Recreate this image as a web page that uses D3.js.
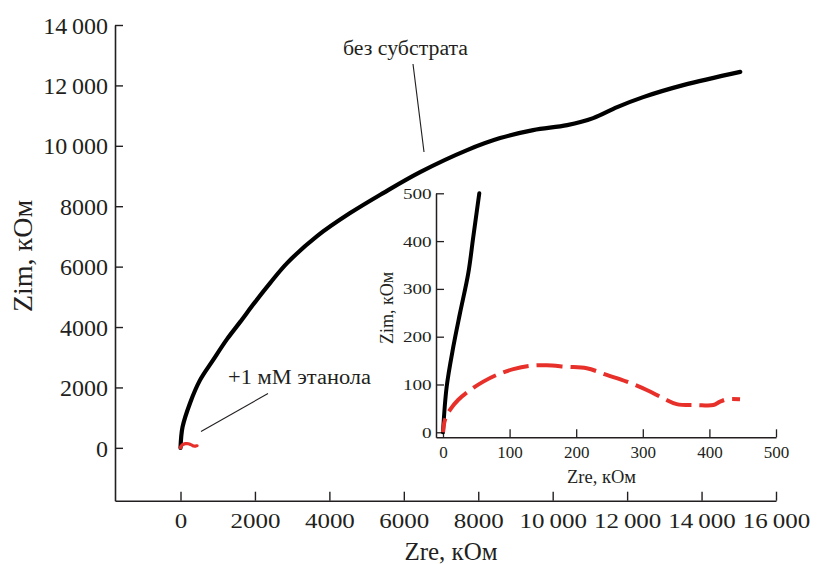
<!DOCTYPE html>
<html><head><meta charset="utf-8">
<script src="https://cdn.jsdelivr.net/npm/d3@7"></script>
<style>
html,body{margin:0;padding:0;background:#fff;}
svg{display:block;}
text{font-family:"Liberation Serif","Times New Roman",serif !important;fill:#231f20;}
</style></head>
<body>
<svg id="c" width="819" height="564"></svg>
<script>
// ---- data (kOhm) ----
const mainZre = [0, 54, 255, 524, 874, 1250, 1599, 2002, 2406, 2863, 3669, 4556, 5443, 6438, 7701, 8588, 9475, 10389, 11088, 11733, 12432, 13507, 15040];
const mainZim = [0, 685, 1480, 2242, 2904, 3599, 4162, 4825, 5454, 6116, 7010, 7772, 8434, 9129, 9858, 10255, 10520, 10685, 10917, 11281, 11612, 12009, 12449];
const ethZre = [0, 3, 10.5, 23, 40.5, 60.5, 80.6, 105.6, 130.6, 155.7, 185.7, 215.8, 245.8, 275.8, 305.9, 330.9, 350.9, 381, 405.9, 416, 426, 446];
const ethZim = [0, 26, 47, 68, 88, 106, 120, 132, 139, 140, 137, 134, 120, 106, 88.5, 71, 59, 57, 57, 64, 69, 69];
const insetBlackZre = [0, 5.5, 15.5, 25.5, 38, 45.5, 54.5];
const insetBlackZim = [0, 95, 179, 249, 333, 409, 500];

const xTickValues = [0, 2000, 4000, 6000, 8000, 10000, 12000, 14000, 16000];
const xTickLabels = ["0", "2000", "4000", "6000", "8000", "10\u2009000", "12\u2009000", "14\u2009000", "16\u2009000"];
const yTickValues = [0, 2000, 4000, 6000, 8000, 10000, 12000, 14000];
const yTickLabels = ["0", "2000", "4000", "6000", "8000", "10\u2009000", "12\u2009000", "14\u2009000"];
const insetTickValues = [0, 100, 200, 300, 400, 500];
const insetTickLabels = ["0", "100", "200", "300", "400", "500"];

const xTitle = "Zre, кОм";
const yTitle = "Zim, кОм";
const labelNoSub = "без субстрата";
const labelEth = "+1 мМ этанола";

const svg = d3.select("#c");
const ink = "#231f20";
const red = "#e8302a";
const serif = '"Liberation Serif", "Times New Roman", serif';

// ---- main scales ----
const x = d3.scaleLinear().domain([-1760, 16000]).range([115, 776]);
const y = d3.scaleLinear().domain([-1750, 14000]).range([500.7, 25]);

// main axes
const gx = svg.append("g").attr("transform", `translate(0,${y.range()[0]})`)
  .call(d3.axisBottom(x).tickValues(xTickValues).tickSizeInner(-9).tickSizeOuter(0)
    .tickFormat((d, i) => xTickLabels[i]));
const gy = svg.append("g").attr("transform", `translate(${x.range()[0]},0)`)
  .call(d3.axisLeft(y).tickValues(yTickValues).tickSizeInner(-8).tickSizeOuter(0)
    .tickFormat((d, i) => yTickLabels[i]));
[gx, gy].forEach(g => {
  g.attr("font-family", serif);
  g.select(".domain").attr("stroke", ink).attr("stroke-width", 1.6);
  g.selectAll(".tick line").attr("stroke", ink).attr("stroke-width", 1.4);
});
gx.selectAll(".tick text").style("font-family", serif).attr("font-size", 20)
  .attr("fill", ink).attr("y", 27.5).attr("dy", 0).attr("transform", "scale(1.25,1)");
gy.selectAll(".tick text").style("font-family", serif).attr("font-size", 24)
  .attr("fill", ink).attr("x", -7).attr("dy", "0.34em");

// main titles
svg.append("text").attr("x", 451).attr("y", 560).attr("text-anchor", "middle")
  .attr("font-size", 25).text(xTitle);
svg.append("text").attr("transform", "translate(32,256) rotate(-90)").attr("text-anchor", "middle")
  .attr("font-size", 28).text(yTitle);

// main lines
const lineMain = d3.line().x(d => x(d[0])).y(d => y(d[1])).curve(d3.curveCatmullRom.alpha(0.5));
svg.append("path").datum(mainZre.map((v, i) => [v, mainZim[i]]))
  .attr("d", lineMain).attr("fill", "none").attr("stroke", "#000").attr("stroke-width", 4.2)
  .attr("stroke-linecap", "round").attr("stroke-linejoin", "round");
svg.append("path").datum(ethZre.map((v, i) => [v, ethZim[i]]))
  .attr("d", lineMain).attr("fill", "none").attr("stroke", red).attr("stroke-width", 3.2)
  .attr("stroke-linecap", "round");

// annotations
svg.append("text").attr("x", 343).attr("y", 55).attr("font-size", 20)
  .attr("textLength", 125).attr("lengthAdjust", "spacingAndGlyphs").text(labelNoSub);
svg.append("line").attr("x1", 413).attr("y1", 64).attr("x2", 424).attr("y2", 152)
  .attr("stroke", ink).attr("stroke-width", 1.1);
svg.append("text").attr("x", 228).attr("y", 384).attr("font-size", 20)
  .attr("textLength", 143).attr("lengthAdjust", "spacingAndGlyphs").text(labelEth);
svg.append("line").attr("x1", 268).attr("y1", 393.5).attr("x2", 201).attr("y2", 431.5)
  .attr("stroke", ink).attr("stroke-width", 1.1);

// ---- inset ----
const xi = d3.scaleLinear().domain([-10.5, 500]).range([436, 776]);
const yi = d3.scaleLinear().domain([-10.5, 500]).range([437.3, 193.3]);

const gxi = svg.append("g").attr("transform", `translate(0,${yi.range()[0]})`)
  .call(d3.axisBottom(xi).tickValues(insetTickValues).tickSizeInner(-8).tickSizeOuter(0)
    .tickFormat((d, i) => insetTickLabels[i]));
const gyi = svg.append("g").attr("transform", `translate(${xi.range()[0]},0)`)
  .call(d3.axisLeft(yi).tickValues(insetTickValues).tickSizeInner(-8).tickSizeOuter(0)
    .tickFormat((d, i) => insetTickLabels[i]));
[gxi, gyi].forEach(g => {
  g.attr("font-family", serif);
  g.select(".domain").attr("stroke", ink).attr("stroke-width", 1.5);
  g.selectAll(".tick line").attr("stroke", ink).attr("stroke-width", 1.3);
});
gxi.selectAll(".tick text").style("font-family", serif).attr("font-size", 17)
  .attr("fill", ink).attr("y", 21).attr("dy", 0);
gyi.selectAll(".tick text").style("font-family", serif).attr("font-size", 15)
  .attr("fill", ink).attr("x", -3.4).attr("dy", "0.34em").attr("transform", "scale(1.28,1)");

svg.append("text").attr("x", 601.5).attr("y", 483).attr("text-anchor", "middle")
  .attr("font-size", 18.5).text(xTitle);
svg.append("text").attr("transform", "translate(393,308) rotate(-90)").attr("text-anchor", "middle")
  .attr("font-size", 18).text(yTitle);

const lineIn = d3.line().x(d => xi(d[0])).y(d => yi(d[1])).curve(d3.curveCatmullRom.alpha(0.5));
svg.append("path").datum(insetBlackZre.map((v, i) => [v, insetBlackZim[i]]))
  .attr("d", lineIn).attr("fill", "none").attr("stroke", "#000").attr("stroke-width", 4)
  .attr("stroke-linecap", "round").attr("stroke-linejoin", "round");
svg.append("path").datum(ethZre.map((v, i) => [v, ethZim[i]]))
  .attr("d", lineIn).attr("fill", "none").attr("stroke", red).attr("stroke-width", 4)
  .attr("stroke-dasharray", "26,8").attr("stroke-dashoffset", 12);
</script>
</body></html>
